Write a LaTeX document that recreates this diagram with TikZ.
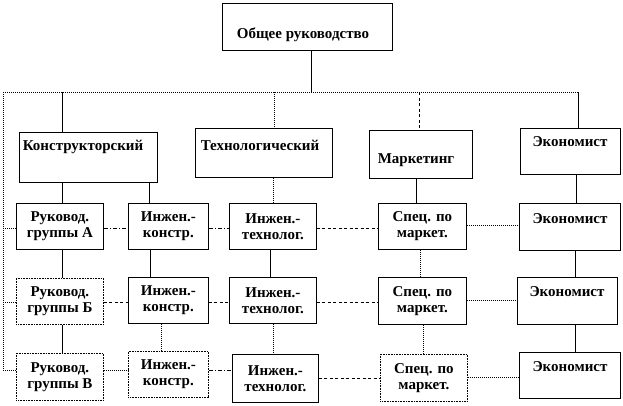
\documentclass[tikz,border=0pt]{standalone}
\usepackage{fontspec}
\setmainfont{Liberation Serif}
\begin{document}
\begin{tikzpicture}[x=1pt,y=-1pt,
  box/.style={draw,line width=0.8pt,rectangle,inner sep=0pt,anchor=north west},
  dbox/.style={box,dash pattern=on 1pt off 0.6pt},
  txt/.style={font=\fontsize{15}{16}\selectfont\bfseries,align=center,inner sep=0pt},
  sol/.style={line width=0.8pt},
  dot/.style={line width=0.8pt,dash pattern=on 1pt off 1pt},
  dsh/.style={line width=0.8pt,dash pattern=on 3pt off 2.5pt},
  dd/.style={line width=0.8pt,dash pattern=on 4pt off 2pt on 1pt off 2pt}]
\fill[white] (0,0) rectangle (623,405);
\useasboundingbox (0,0) rectangle (623,405);
% boxes
\node[box,minimum width=170pt,minimum height=47pt] (top) at (222,3) {};
\node[txt] (topt) at (303,35) {Общее руководство};
\node[box,minimum width=138pt,minimum height=50pt] (k) at (19,132) {};
\node[txt] (kt) at (83,147) {Конструкторский};
\node[box,minimum width=137pt,minimum height=49pt] (t) at (195,128) {};
\node[txt] (tt) at (260,145) {Технологический};
\node[box,minimum width=103pt,minimum height=48pt] (m) at (369,130) {};
\node[txt] (mt) at (416,160) {Маркетинг};
\node[box,minimum width=100pt,minimum height=46pt] (e0) at (520,128) {};
\node[txt] (e0t) at (570,142) {Экономист};
% row 1
\node[box,minimum width=87pt,minimum height=46pt] (r1) at (16,203) {};
\node[txt] at (r1.center) {Руковод.\\группы А};
\node[box,minimum width=80pt,minimum height=46pt] (k1) at (128,203) {};
\node[txt] at (k1.center) {Инжен.-\\констр.};
\node[box,minimum width=87pt,minimum height=46pt] (t1) at (229,203) {};
\node[txt] at (t1.center) {Инжен.-\\технолог.};
\node[box,minimum width=88pt,minimum height=46pt] (s1) at (378,203) {};
\node[txt] at (s1.center) {Спец. по\\маркет.};
\node[box,minimum width=101pt,minimum height=47pt] (e1) at (519,203) {};
\node[txt] at (570,219) {Экономист};
% row 2
\node[dbox,minimum width=87pt,minimum height=46pt] (r2) at (16,278) {};
\node[txt] at (r2.center) {Руковод.\\группы Б};
\node[box,minimum width=80pt,minimum height=46pt] (k2) at (128,277) {};
\node[txt] at (k2.center) {Инжен.-\\констр.};
\node[box,minimum width=87pt,minimum height=46pt] (t2) at (229,277) {};
\node[txt] at (t2.center) {Инжен.-\\технолог.};
\node[box,minimum width=88pt,minimum height=47pt] (s2) at (378,277) {};
\node[txt] at (s2.center) {Спец. по\\маркет.};
\node[box,minimum width=100pt,minimum height=47pt] (e2) at (517,277) {};
\node[txt] at (567,292) {Экономист};
% row 3
\node[dbox,minimum width=87pt,minimum height=47pt] (r3) at (16,353) {};
\node[txt] at (r3.center) {Руковод.\\группы В};
\node[dbox,minimum width=80pt,minimum height=46pt] (k3) at (128,351) {};
\node[txt] at (k3.center) {Инжен.-\\констр.};
\node[box,minimum width=86pt,minimum height=48pt] (t3) at (232,354) {};
\node[txt] at (t3.center) {Инжен.-\\технолог.};
\node[dbox,minimum width=87pt,minimum height=47pt] (s3) at (380,354) {};
\node[txt] at (s3.center) {Спец. по\\маркет.};
\node[box,minimum width=101pt,minimum height=46pt] (e3) at (519,352) {};
\node[txt] at (570,367) {Экономист};
% helper coordinates
\coordinate (bus) at (311,92);
\coordinate (bl) at (3,92);
\coordinate (br) at (578,92);
\coordinate (c3) at (3,370);
\foreach \n/\xv in {62/62,149/149,150/150,161/161,270/270,273/273,274/274,416/416,419/419,420/420,423/423,575/575,576/576,578/578}
  \coordinate (x\n) at (\xv,0);
\foreach \n in {225,228,300,302,370,377,378}
  \coordinate (y\n) at (0,\n);
% bus
\draw[sol] (top.south -| bus) -- (bus);
\draw[dot] (bl) -- (br);
\draw[dot] (bl) -- (c3);
\draw[sol] (bl -| x62) -- (k.north -| x62);
\draw[dot] (bl -| x274) -- (t.north -| x274);
\draw[dsh] (bl -| x419) -- (m.north -| x419);
\draw[sol] (br) -- (e0.north -| x578);
% verticals level 1
\draw[sol] (k.south -| x62) -- (r1.north -| x62);
\draw[sol] (k.south -| x149) -- (k1.north -| x149);
\draw[dot] (t.south -| x273) -- (t1.north -| x273);
\draw[sol] (m.south -| x416) -- (s1.north -| x416);
\draw[sol] (e0.south -| x576) -- (e1.north -| x576);
% verticals level 2
\draw[sol] (r1.south -| x62) -- (r2.north -| x62);
\draw[sol] (k1.south -| x150) -- (k2.north -| x150);
\draw[sol] (t1.south -| x270) -- (t2.north -| x270);
\draw[dot] (s1.south -| x420) -- (s2.north -| x420);
\draw[sol] (e1.south -| x575) -- (e2.north -| x575);
% verticals level 3
\draw[sol] (r2.south -| x62) -- (r3.north -| x62);
\draw[dot] (k2.south -| x161) -- (k3.north -| x161);
\draw[dot] (t2.south -| x273) -- (t3.north -| x273);
\draw[dot] (s2.south -| x423) -- (s3.north -| x423);
\draw[sol] (e2.south -| x575) -- (e3.north -| x575);
% horizontals row 1
\draw[dot] (bl |- y228) -- (r1.west |- y228);
\draw[dd] (r1.east |- y228) -- (k1.west |- y228);
\draw[dd] (k1.east |- y228) -- (t1.west |- y228);
\draw[dsh] (t1.east |- y228) -- (s1.west |- y228);
\draw[dot] (s1.east |- y225) -- (e1.west |- y225);
% row 2
\draw[dot] (bl |- y302) -- (r2.west |- y302);
\draw[dsh] (r2.east |- y302) -- (k2.west |- y302);
\draw[dsh] (k2.east |- y302) -- (t2.west |- y302);
\draw[dsh] (t2.east |- y302) -- (s2.west |- y302);
\draw[dot] (s2.east |- y300) -- (e2.west |- y300);
% row 3
\draw[dot] (c3) -- (r3.west |- y370);
\draw[dot] (r3.east |- y370) -- (k3.west |- y370);
\draw[dd] (k3.east |- y370) -- (t3.west |- y370);
\draw[dsh] (t3.east |- y378) -- (s3.west |- y378);
\draw[dot] (s3.east |- y377) -- (e3.west |- y377);
\end{tikzpicture}
\end{document}
